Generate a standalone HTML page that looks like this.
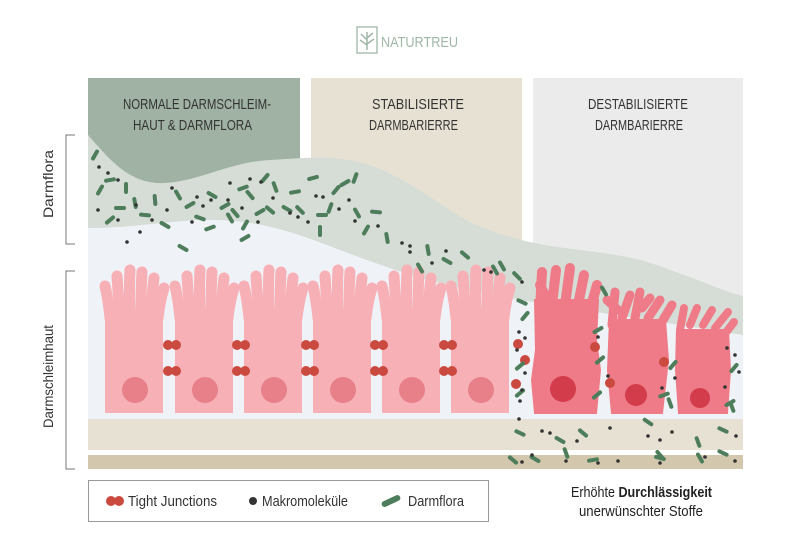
<!DOCTYPE html>
<html><head><meta charset="utf-8"><style>
html,body{margin:0;padding:0;background:#fff}
svg{display:block}
text{font-family:"Liberation Sans Narrow","Liberation Sans",sans-serif}
</style></head><body>
<svg width="800" height="551" viewBox="0 0 800 551" xmlns="http://www.w3.org/2000/svg">
<defs>
<g id="cell">
  <g stroke="#f7b0b6" stroke-width="11" stroke-linecap="round" fill="none">
    <path d="M9,50 Q7,30 4,18"/>
    <path d="M19,45 Q17,25 16,8"/>
    <path d="M29,45 Q28,20 29,2"/>
    <path d="M40,45 Q40,20 41,4"/>
    <path d="M50,45 Q51,25 53,10"/>
    <path d="M57,50 Q59,32 63,20"/>
  </g>
  <rect x="4" y="40" width="58" height="105" fill="#f7b0b6"/>
</g>
<rect id="b" x="-6" y="-2" width="12" height="4" rx="2" fill="#4e7d5b"/>
</defs>

<!-- logo -->
<rect x="357" y="27" width="20" height="26" fill="none" stroke="#9fb7a7" stroke-width="1.3"/>
<path d="M367,50 L367,32 M367,40 L361,34 M367,38 L373,33 M367,45 L360,40 M367,44 L374,39" stroke="#9fb7a7" stroke-width="1.5" fill="none"/>
<text x="381" y="47" font-size="15" fill="#9fb7a7" textLength="77" lengthAdjust="spacingAndGlyphs">NATURTREU</text>

<!-- panels -->
<rect x="88" y="78" width="212" height="120" fill="#a0b2a3"/>
<rect x="311" y="78" width="211" height="180" fill="#e7e1d3"/>
<rect x="533" y="78" width="210" height="270" fill="#ebebeb"/>

<g font-size="15" fill="#333">
<text x="123" y="109" textLength="148" lengthAdjust="spacingAndGlyphs">NORMALE DARMSCHLEIM-</text>
<text x="133" y="130" textLength="119" lengthAdjust="spacingAndGlyphs">HAUT &amp; DARMFLORA</text>
<text x="372" y="109" textLength="92" lengthAdjust="spacingAndGlyphs">STABILISIERTE</text>
<text x="369" y="130" textLength="89" lengthAdjust="spacingAndGlyphs">DARMBARIERRE</text>
<text x="588" y="109" textLength="100" lengthAdjust="spacingAndGlyphs">DESTABILISIERTE</text>
<text x="595" y="130" textLength="88" lengthAdjust="spacingAndGlyphs">DARMBARIERRE</text>
</g>

<!-- flora band -->
<path d="M88,135 C110,160 130,185 165,183 C200,181 230,162 270,160 C300,158 320,156 350,160 C400,170 430,200 470,222 C510,240 540,245 580,250 C620,255 640,258 670,270 C700,280 720,290 743,296 L743,420 L88,420 Z" fill="#d5ddd6"/>
<path d="M88,228 C130,228 160,222 200,220 C260,218 300,235 340,250 C380,265 420,280 470,290 L520,300 L743,335 L743,420 L88,420 Z" fill="#eff2f7"/>

<!-- normal cells -->
<use href="#cell" x="101" y="268"/>
<use href="#cell" x="171" y="268"/>
<use href="#cell" x="240" y="268"/>
<use href="#cell" x="309" y="268"/>
<use href="#cell" x="378" y="268"/>
<use href="#cell" x="447" y="268"/>
<g fill="#e8808a">
<circle cx="135" cy="390" r="13"/><circle cx="205" cy="390" r="13"/><circle cx="274" cy="390" r="13"/>
<circle cx="343" cy="390" r="13"/><circle cx="412" cy="390" r="13"/><circle cx="481" cy="390" r="13"/>
</g>
<g fill="#cb4a40">
<circle cx="168" cy="345" r="5"/><circle cx="176" cy="345" r="5"/><circle cx="168" cy="371" r="5"/><circle cx="176" cy="371" r="5"/>
<circle cx="237" cy="345" r="5"/><circle cx="245" cy="345" r="5"/><circle cx="237" cy="371" r="5"/><circle cx="245" cy="371" r="5"/>
<circle cx="306" cy="345" r="5"/><circle cx="314" cy="345" r="5"/><circle cx="306" cy="371" r="5"/><circle cx="314" cy="371" r="5"/>
<circle cx="375" cy="345" r="5"/><circle cx="383" cy="345" r="5"/><circle cx="375" cy="371" r="5"/><circle cx="383" cy="371" r="5"/>
<circle cx="444" cy="345" r="5"/><circle cx="452" cy="345" r="5"/><circle cx="444" cy="371" r="5"/><circle cx="452" cy="371" r="5"/>
</g>

<!-- damaged cells -->
<g fill="#ee7b87" stroke="#ee7b87" stroke-linecap="round">
<path d="M535,300 L598,300 L596,340 L600,370 L596,413 L535,413 L532,380 L536,350 Z" stroke-width="2"/>
<g stroke-width="10" fill="none">
<path d="M540,310 L542,272"/><path d="M552,305 L556,270"/><path d="M565,305 L570,268"/><path d="M578,305 L584,275"/><path d="M590,310 L597,285"/><path d="M547,300 L540,285"/>
</g>
<path d="M610,320 L665,320 L668,360 L662,413 L612,413 L608,370 Z" stroke-width="2"/>
<g stroke-width="9" fill="none">
<path d="M612,325 L615,292"/><path d="M622,318 L630,295"/><path d="M635,318 L640,292"/><path d="M648,318 L660,300"/><path d="M660,325 L672,305"/><path d="M618,310 L607,300"/><path d="M642,308 L650,298"/>
</g>
<path d="M677,330 L728,330 L730,370 L727,413 L679,413 L676,370 Z" stroke-width="2"/>
<g stroke-width="8" fill="none">
<path d="M680,330 L684,308"/><path d="M690,325 L697,308"/><path d="M703,325 L712,310"/><path d="M715,328 L728,312"/><path d="M724,335 L734,322"/>
</g>
</g>
<g fill="#d23c4b"><circle cx="563" cy="389" r="13"/><circle cx="636" cy="395" r="11"/><circle cx="700" cy="398" r="10"/></g>
<g fill="#cb4a40"><circle cx="518" cy="344" r="5"/><circle cx="525" cy="360" r="5"/><circle cx="516" cy="384" r="5"/><circle cx="595" cy="347" r="5"/><circle cx="610" cy="383" r="5"/><circle cx="664" cy="362" r="5"/></g>

<!-- bottom bands -->
<rect x="88" y="419" width="655" height="31" fill="#e7e1d3"/>
<rect x="88" y="455" width="655" height="14" fill="#d3c8ae"/>

<!-- bacteria -->
<g>
<use href="#b" transform="translate(95,155) rotate(-60)"/><use href="#b" transform="translate(110,180) rotate(-10)"/><use href="#b" transform="translate(126,188) rotate(90)"/><use href="#b" transform="translate(100,190) rotate(-60)"/><use href="#b" transform="translate(120,208) rotate(0)"/><use href="#b" transform="translate(135,203) rotate(80)"/><use href="#b" transform="translate(110,220) rotate(-40)"/><use href="#b" transform="translate(145,215) rotate(5)"/><use href="#b" transform="translate(155,200) rotate(85)"/><use href="#b" transform="translate(165,225) rotate(30)"/><use href="#b" transform="translate(178,195) rotate(60)"/><use href="#b" transform="translate(190,205) rotate(-30)"/><use href="#b" transform="translate(200,218) rotate(20)"/><use href="#b" transform="translate(212,195) rotate(30)"/><use href="#b" transform="translate(225,206) rotate(-30)"/><use href="#b" transform="translate(235,213) rotate(50)"/><use href="#b" transform="translate(243,188) rotate(-20)"/><use href="#b" transform="translate(250,195) rotate(50)"/><use href="#b" transform="translate(260,212) rotate(-30)"/><use href="#b" transform="translate(270,210) rotate(40)"/><use href="#b" transform="translate(245,225) rotate(-60)"/><use href="#b" transform="translate(245,238) rotate(-30)"/><use href="#b" transform="translate(287,209) rotate(30)"/><use href="#b" transform="translate(300,210) rotate(45)"/><use href="#b" transform="translate(265,178) rotate(-50)"/><use href="#b" transform="translate(295,192) rotate(-10)"/><use href="#b" transform="translate(275,187) rotate(70)"/><use href="#b" transform="translate(313,178) rotate(-15)"/><use href="#b" transform="translate(322,215) rotate(0)"/><use href="#b" transform="translate(330,208) rotate(-70)"/><use href="#b" transform="translate(336,190) rotate(-50)"/><use href="#b" transform="translate(345,183) rotate(-30)"/><use href="#b" transform="translate(355,178) rotate(-70)"/><use href="#b" transform="translate(357,213) rotate(60)"/><use href="#b" transform="translate(366,230) rotate(-60)"/><use href="#b" transform="translate(376,212) rotate(5)"/><use href="#b" transform="translate(387,238) rotate(80)"/><use href="#b" transform="translate(320,231) rotate(90)"/><use href="#b" transform="translate(230,218) rotate(60)"/><use href="#b" transform="translate(183,248) rotate(30)"/><use href="#b" transform="translate(210,228) rotate(-20)"/>
<use href="#b" transform="translate(428,250) rotate(80)"/><use href="#b" transform="translate(447,261) rotate(30)"/><use href="#b" transform="translate(465,255) rotate(40)"/><use href="#b" transform="translate(502,266) rotate(60)"/><use href="#b" transform="translate(420,268) rotate(60)"/>
<use href="#b" transform="translate(495,270) rotate(60)"/><use href="#b" transform="translate(517,276) rotate(45)"/><use href="#b" transform="translate(522,302) rotate(25)"/><use href="#b" transform="translate(525,316) rotate(-50)"/><use href="#b" transform="translate(520,366) rotate(-40)"/><use href="#b" transform="translate(520,393) rotate(-40)"/><use href="#b" transform="translate(604,291) rotate(60)"/><use href="#b" transform="translate(598,330) rotate(-30)"/><use href="#b" transform="translate(600,360) rotate(-40)"/><use href="#b" transform="translate(597,395) rotate(-40)"/><use href="#b" transform="translate(664,395) rotate(-20)"/><use href="#b" transform="translate(670,403) rotate(70)"/><use href="#b" transform="translate(673,365) rotate(-50)"/><use href="#b" transform="translate(734,368) rotate(-50)"/><use href="#b" transform="translate(730,403) rotate(-30)"/><use href="#b" transform="translate(732,407) rotate(70)"/>
<use href="#b" transform="translate(520,433) rotate(25)"/><use href="#b" transform="translate(560,440) rotate(30)"/><use href="#b" transform="translate(583,433) rotate(40)"/><use href="#b" transform="translate(648,422) rotate(35)"/><use href="#b" transform="translate(698,442) rotate(70)"/><use href="#b" transform="translate(723,430) rotate(25)"/><use href="#b" transform="translate(513,460) rotate(40)"/><use href="#b" transform="translate(535,459) rotate(30)"/><use href="#b" transform="translate(566,453) rotate(70)"/><use href="#b" transform="translate(593,460) rotate(-10)"/><use href="#b" transform="translate(660,458) rotate(15)"/><use href="#b" transform="translate(700,458) rotate(60)"/><use href="#b" transform="translate(723,453) rotate(25)"/><use href="#b" transform="translate(660,455) rotate(50)"/>
</g>
<g fill="#333">
<circle cx="99" cy="167" r="1.8"/><circle cx="108" cy="173" r="1.8"/><circle cx="118" cy="180" r="1.8"/><circle cx="98" cy="210" r="1.8"/><circle cx="118" cy="220" r="1.8"/><circle cx="136" cy="205" r="1.8"/><circle cx="140" cy="232" r="1.8"/><circle cx="127" cy="242" r="1.8"/><circle cx="152" cy="220" r="1.8"/><circle cx="167" cy="210" r="1.8"/><circle cx="172" cy="188" r="1.8"/><circle cx="192" cy="222" r="1.8"/><circle cx="197" cy="197" r="1.8"/><circle cx="203" cy="206" r="1.8"/><circle cx="211" cy="200" r="1.8"/><circle cx="228" cy="200" r="1.8"/><circle cx="230" cy="183" r="1.8"/><circle cx="242" cy="208" r="1.8"/><circle cx="250" cy="179" r="1.8"/><circle cx="258" cy="222" r="1.8"/><circle cx="261" cy="182" r="1.8"/><circle cx="273" cy="198" r="1.8"/><circle cx="290" cy="213" r="1.8"/><circle cx="298" cy="217" r="1.8"/><circle cx="308" cy="222" r="1.8"/><circle cx="323" cy="197" r="1.8"/><circle cx="316" cy="196" r="1.8"/><circle cx="339" cy="209" r="1.8"/><circle cx="349" cy="200" r="1.8"/><circle cx="378" cy="226" r="1.8"/><circle cx="402" cy="243" r="1.8"/><circle cx="410" cy="246" r="1.8"/><circle cx="355" cy="221" r="1.8"/><circle cx="432" cy="263" r="1.8"/><circle cx="446" cy="251" r="1.8"/><circle cx="410" cy="252" r="1.8"/><circle cx="484" cy="270" r="1.8"/><circle cx="491" cy="272" r="1.8"/><circle cx="522" cy="282" r="1.8"/>
<circle cx="519" cy="332" r="1.8"/><circle cx="525" cy="338" r="1.8"/><circle cx="517" cy="350" r="1.8"/><circle cx="525" cy="373" r="1.8"/><circle cx="522" cy="390" r="1.8"/><circle cx="520" cy="401" r="1.8"/><circle cx="598" cy="337" r="1.8"/><circle cx="608" cy="376" r="1.8"/><circle cx="662" cy="388" r="1.8"/><circle cx="675" cy="378" r="1.8"/><circle cx="727" cy="348" r="1.8"/><circle cx="735" cy="355" r="1.8"/><circle cx="739" cy="372" r="1.8"/><circle cx="725" cy="387" r="1.8"/>
<circle cx="519" cy="419" r="1.8"/><circle cx="542" cy="431" r="1.8"/><circle cx="550" cy="433" r="1.8"/><circle cx="577" cy="441" r="1.8"/><circle cx="610" cy="428" r="1.8"/><circle cx="648" cy="436" r="1.8"/><circle cx="660" cy="440" r="1.8"/><circle cx="672" cy="432" r="1.8"/><circle cx="736" cy="436" r="1.8"/><circle cx="522" cy="462" r="1.8"/><circle cx="532" cy="455" r="1.8"/><circle cx="566" cy="461" r="1.8"/><circle cx="598" cy="463" r="1.8"/><circle cx="618" cy="461" r="1.8"/><circle cx="660" cy="463" r="1.8"/><circle cx="705" cy="457" r="1.8"/><circle cx="735" cy="461" r="1.8"/>
</g>

<!-- brackets -->
<path d="M75,135 L66,135 L66,244 L75,244 M75,271 L66,271 L66,469 L75,469" fill="none" stroke="#777" stroke-width="1"/>
<text transform="translate(53,218) rotate(-90)" font-size="14" fill="#333" textLength="68" lengthAdjust="spacingAndGlyphs">Darmflora</text>
<text transform="translate(53,428) rotate(-90)" font-size="14" fill="#333" textLength="103" lengthAdjust="spacingAndGlyphs">Darmschleimhaut</text>

<!-- legend -->
<rect x="88.5" y="480.5" width="400" height="41" fill="#fff" stroke="#999" stroke-width="1"/>
<circle cx="111" cy="501" r="5" fill="#cb4a40"/><circle cx="119" cy="501" r="5" fill="#cb4a40"/>
<text x="128" y="506" font-size="15" fill="#333" textLength="89" lengthAdjust="spacingAndGlyphs">Tight Junctions</text>
<circle cx="253" cy="501" r="4" fill="#333"/>
<text x="262" y="506" font-size="15" fill="#333" textLength="86" lengthAdjust="spacingAndGlyphs">Makromoleküle</text>
<rect x="381" y="498" width="20" height="6" rx="3" fill="#4e7d5b" transform="rotate(-25 391 501)"/>
<text x="408" y="506" font-size="15" fill="#333" textLength="56" lengthAdjust="spacingAndGlyphs">Darmflora</text>

<text x="571" y="497" font-size="15" fill="#222" textLength="141" lengthAdjust="spacingAndGlyphs">Erhöhte <tspan font-weight="bold">Durchlässigkeit</tspan></text>
<text x="579" y="516" font-size="15" fill="#222" textLength="124" lengthAdjust="spacingAndGlyphs">unerwünschter Stoffe</text>
</svg>
</body></html>
